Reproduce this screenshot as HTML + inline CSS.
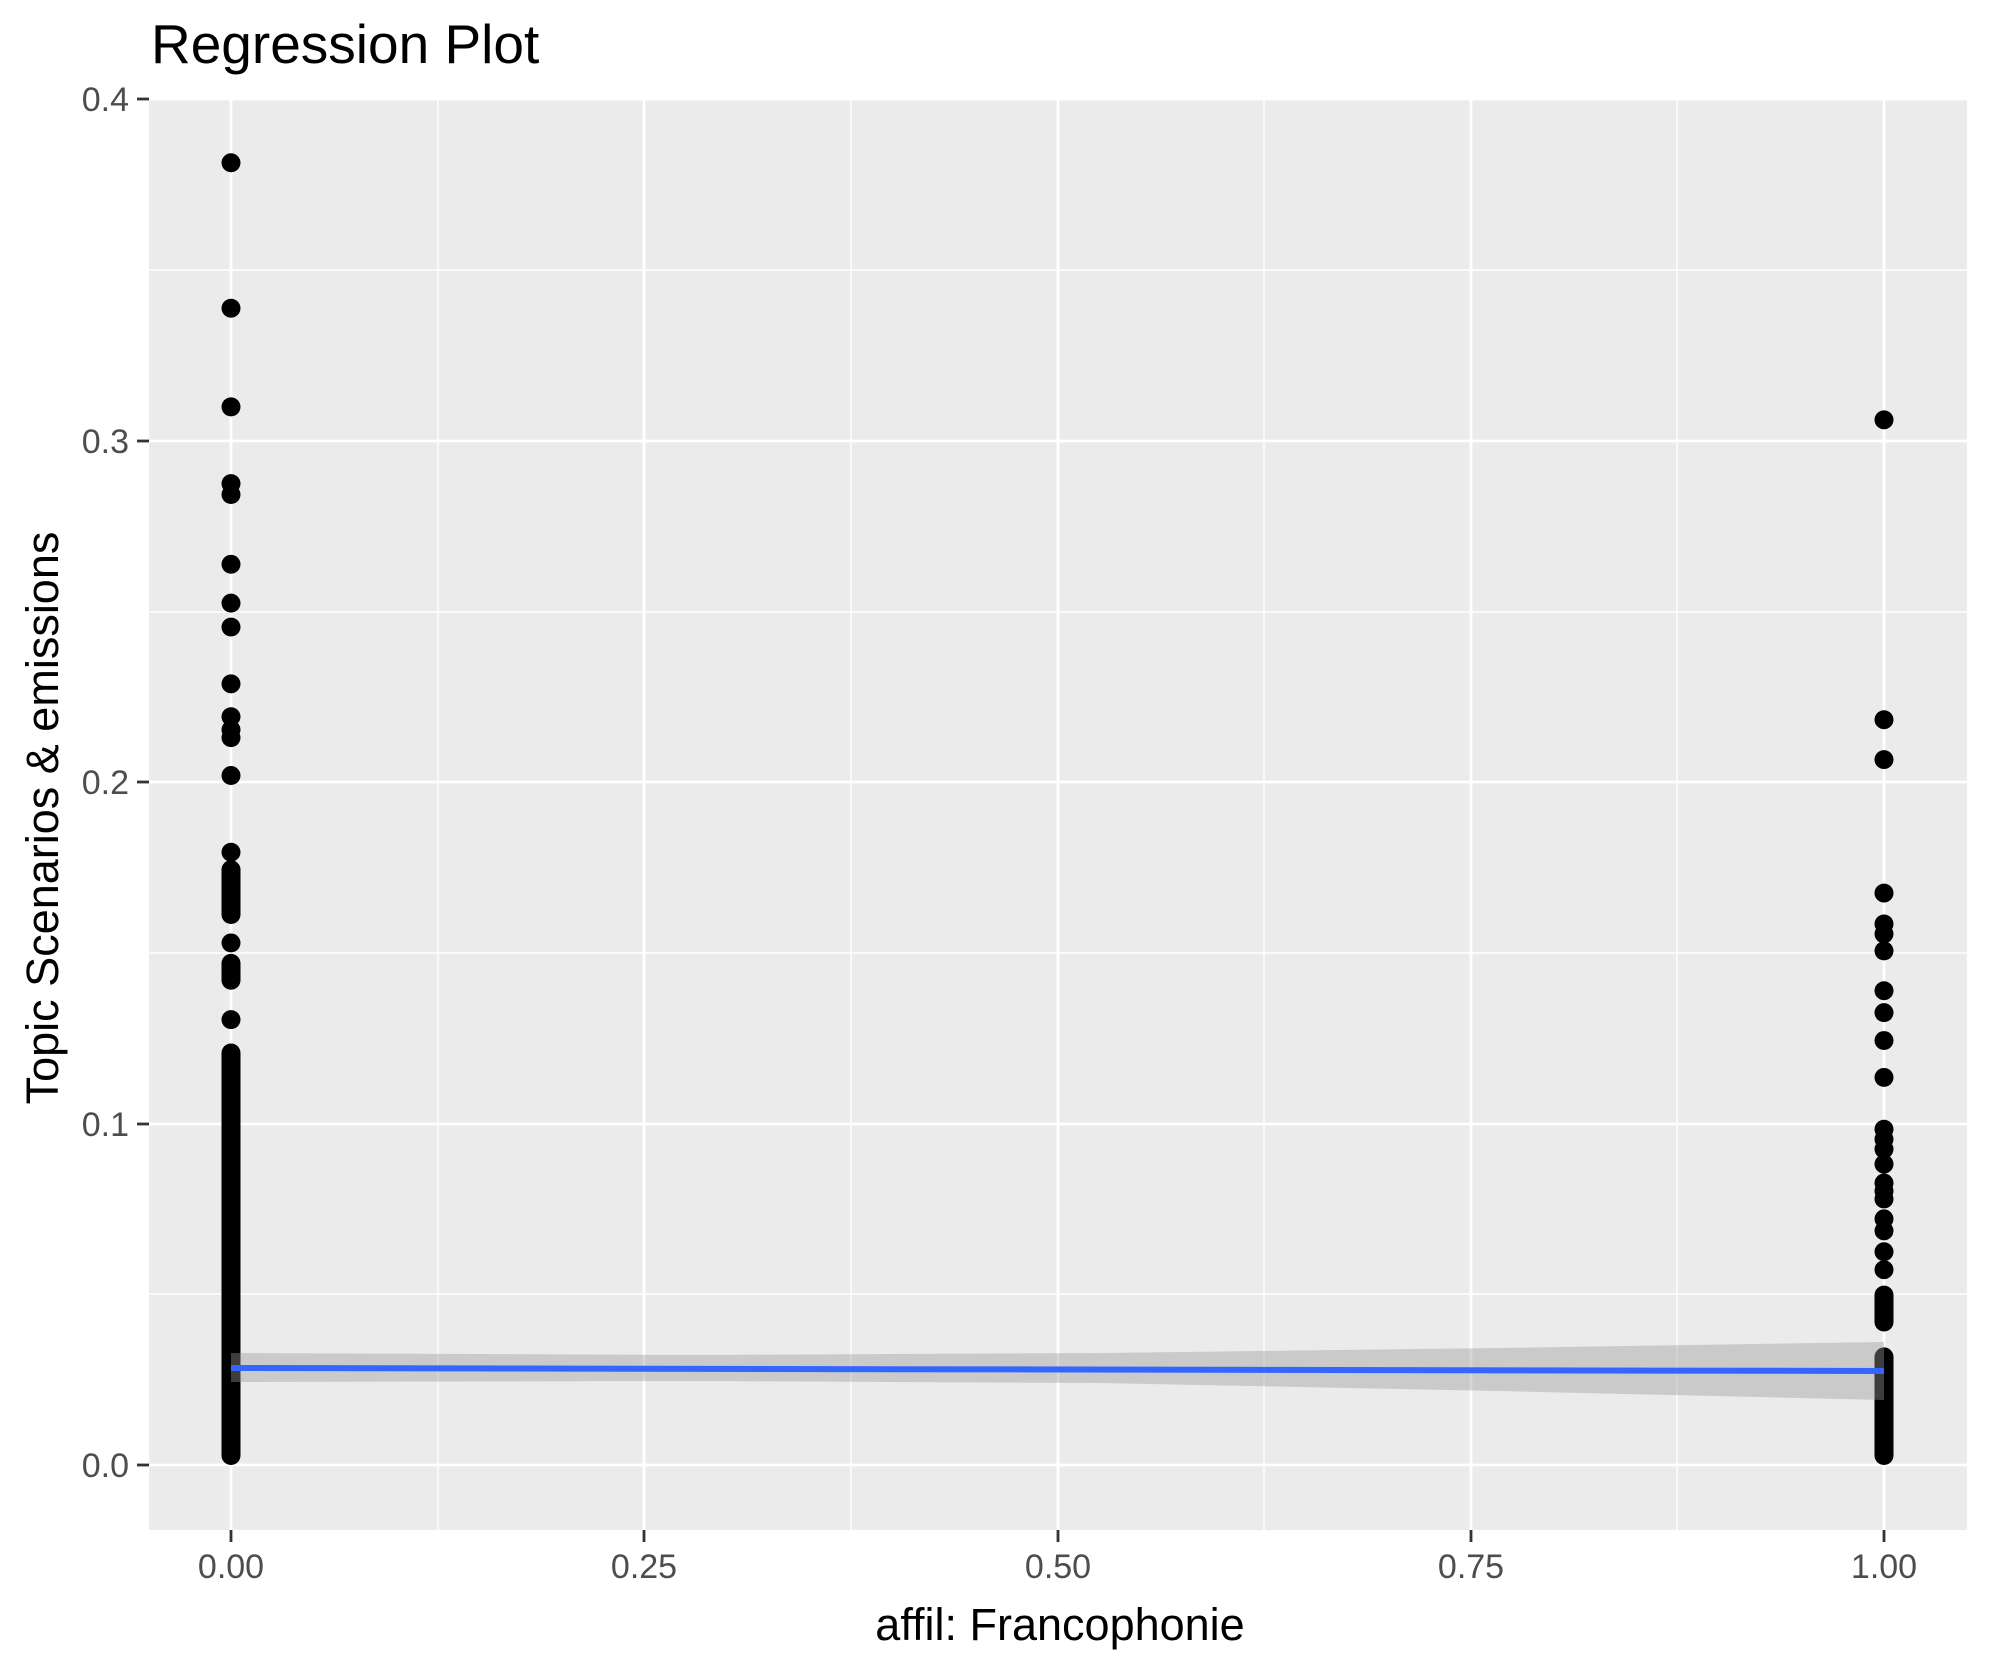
<!DOCTYPE html>
<html><head><meta charset="utf-8"><style>html,body{margin:0;padding:0;background:#fff}svg{display:block}</style></head>
<body>
<svg width="1990" height="1665" viewBox="0 0 1990 1665" xmlns="http://www.w3.org/2000/svg" font-family="Liberation Sans, Arial, sans-serif">
<rect x="0" y="0" width="1990" height="1665" fill="#fff"/>
<rect x="149" y="100" width="1818" height="1430" fill="#ebebeb"/>
<g stroke="#fff" stroke-width="1.4">
<line x1="149" x2="1967" y1="1294" y2="1294"/>
<line x1="149" x2="1967" y1="953" y2="953"/>
<line x1="149" x2="1967" y1="612" y2="612"/>
<line x1="149" x2="1967" y1="270" y2="270"/>
<line y1="100" y2="1530" x1="438" x2="438"/>
<line y1="100" y2="1530" x1="851" x2="851"/>
<line y1="100" y2="1530" x1="1264" x2="1264"/>
<line y1="100" y2="1530" x1="1677" x2="1677"/>
</g>
<g stroke="#fff" stroke-width="2.8">
<line x1="149" x2="1967" y1="1465" y2="1465"/>
<line x1="149" x2="1967" y1="1124" y2="1124"/>
<line x1="149" x2="1967" y1="782" y2="782"/>
<line x1="149" x2="1967" y1="441" y2="441"/>
<line x1="149" x2="1967" y1="99" y2="99"/>
<line y1="100" y2="1530" x1="231" x2="231"/>
<line y1="100" y2="1530" x1="644" x2="644"/>
<line y1="100" y2="1530" x1="1058" x2="1058"/>
<line y1="100" y2="1530" x1="1471" x2="1471"/>
<line y1="100" y2="1530" x1="1884" x2="1884"/>
</g>
<g fill="#000" transform="translate(0,0.36) scale(1,0.99635)">
<rect x="221.5" y="1047" width="19" height="423" rx="9.5"/>
<rect x="221.5" y="863" width="19" height="64" rx="9.5"/>
<rect x="221.5" y="957" width="19" height="36" rx="9.5"/>
<circle cx="231" cy="855" r="9.5"/><circle cx="231" cy="946" r="9.5"/><circle cx="231" cy="1023" r="9.5"/>
<circle cx="231" cy="163" r="9.5"/><circle cx="231" cy="309" r="9.5"/><circle cx="231" cy="408" r="9.5"/>
<circle cx="231" cy="485" r="9.5"/><circle cx="231" cy="496" r="9.5"/><circle cx="231" cy="566" r="9.5"/>
<circle cx="231" cy="605" r="9.5"/><circle cx="231" cy="629" r="9.5"/><circle cx="231" cy="686" r="9.5"/>
<circle cx="231" cy="719" r="9.5"/><circle cx="231" cy="732" r="9.5"/><circle cx="231" cy="740" r="9.5"/>
<circle cx="231" cy="778" r="9.5"/>
<circle cx="1884" cy="421" r="9.5"/><circle cx="1884" cy="722" r="9.5"/><circle cx="1884" cy="762" r="9.5"/>
<circle cx="1884" cy="896" r="9.5"/><circle cx="1884" cy="927" r="9.5"/><circle cx="1884" cy="937" r="9.5"/>
<circle cx="1884" cy="954" r="9.5"/><circle cx="1884" cy="994" r="9.5"/><circle cx="1884" cy="1016" r="9.5"/>
<circle cx="1884" cy="1044" r="9.5"/><circle cx="1884" cy="1081" r="9.5"/>
<circle cx="1884" cy="1133" r="9.5"/><circle cx="1884" cy="1143" r="9.5"/><circle cx="1884" cy="1153" r="9.5"/>
<circle cx="1884" cy="1168" r="9.5"/><circle cx="1884" cy="1187" r="9.5"/><circle cx="1884" cy="1195" r="9.5"/>
<circle cx="1884" cy="1203" r="9.5"/><circle cx="1884" cy="1223" r="9.5"/><circle cx="1884" cy="1235" r="9.5"/>
<circle cx="1884" cy="1256" r="9.5"/><circle cx="1884" cy="1274" r="9.5"/>
<rect x="1874.5" y="1290" width="19" height="46" rx="9.5"/>
<rect x="1874.5" y="1352" width="19" height="118" rx="9.5"/>
</g>
<polygon points="231,1353 700,1355 1100,1353 1500,1348 1884,1342 1884,1400 1500,1391 1100,1383 700,1381 231,1382" fill="#999" fill-opacity="0.4"/>
<line x1="231" y1="1368" x2="1884" y2="1371" stroke="#3366FF" stroke-width="6"/>
<g stroke="#333" stroke-width="2.8">
<line x1="137" x2="149" y1="1465" y2="1465"/><line x1="137" x2="149" y1="1124" y2="1124"/>
<line x1="137" x2="149" y1="782" y2="782"/><line x1="137" x2="149" y1="441" y2="441"/>
<line x1="137" x2="149" y1="99" y2="99"/>
<line y1="1530" y2="1542" x1="231" x2="231"/><line y1="1530" y2="1542" x1="644" x2="644"/>
<line y1="1530" y2="1542" x1="1058" x2="1058"/><line y1="1530" y2="1542" x1="1471" x2="1471"/>
<line y1="1530" y2="1542" x1="1884" x2="1884"/>
</g>
<g fill="#4d4d4d" font-size="34" text-anchor="end">
<text x="129" y="1477">0.0</text><text x="129" y="1136">0.1</text><text x="129" y="794">0.2</text>
<text x="129" y="453">0.3</text><text x="129" y="111">0.4</text>
</g>
<g fill="#4d4d4d" font-size="34" text-anchor="middle">
<text x="231" y="1578">0.00</text><text x="644" y="1578">0.25</text><text x="1058" y="1578">0.50</text>
<text x="1471" y="1578">0.75</text><text x="1884" y="1578">1.00</text>
</g>
<text x="1060" y="1640" font-size="45" text-anchor="middle" fill="#000">affil: Francophonie</text>
<text transform="translate(58,818) rotate(-90)" font-size="45" text-anchor="middle" fill="#000">Topic Scenarios &amp; emissions</text>
<text x="151" y="63" font-size="55" fill="#000">Regression Plot</text>
</svg>
</body></html>
